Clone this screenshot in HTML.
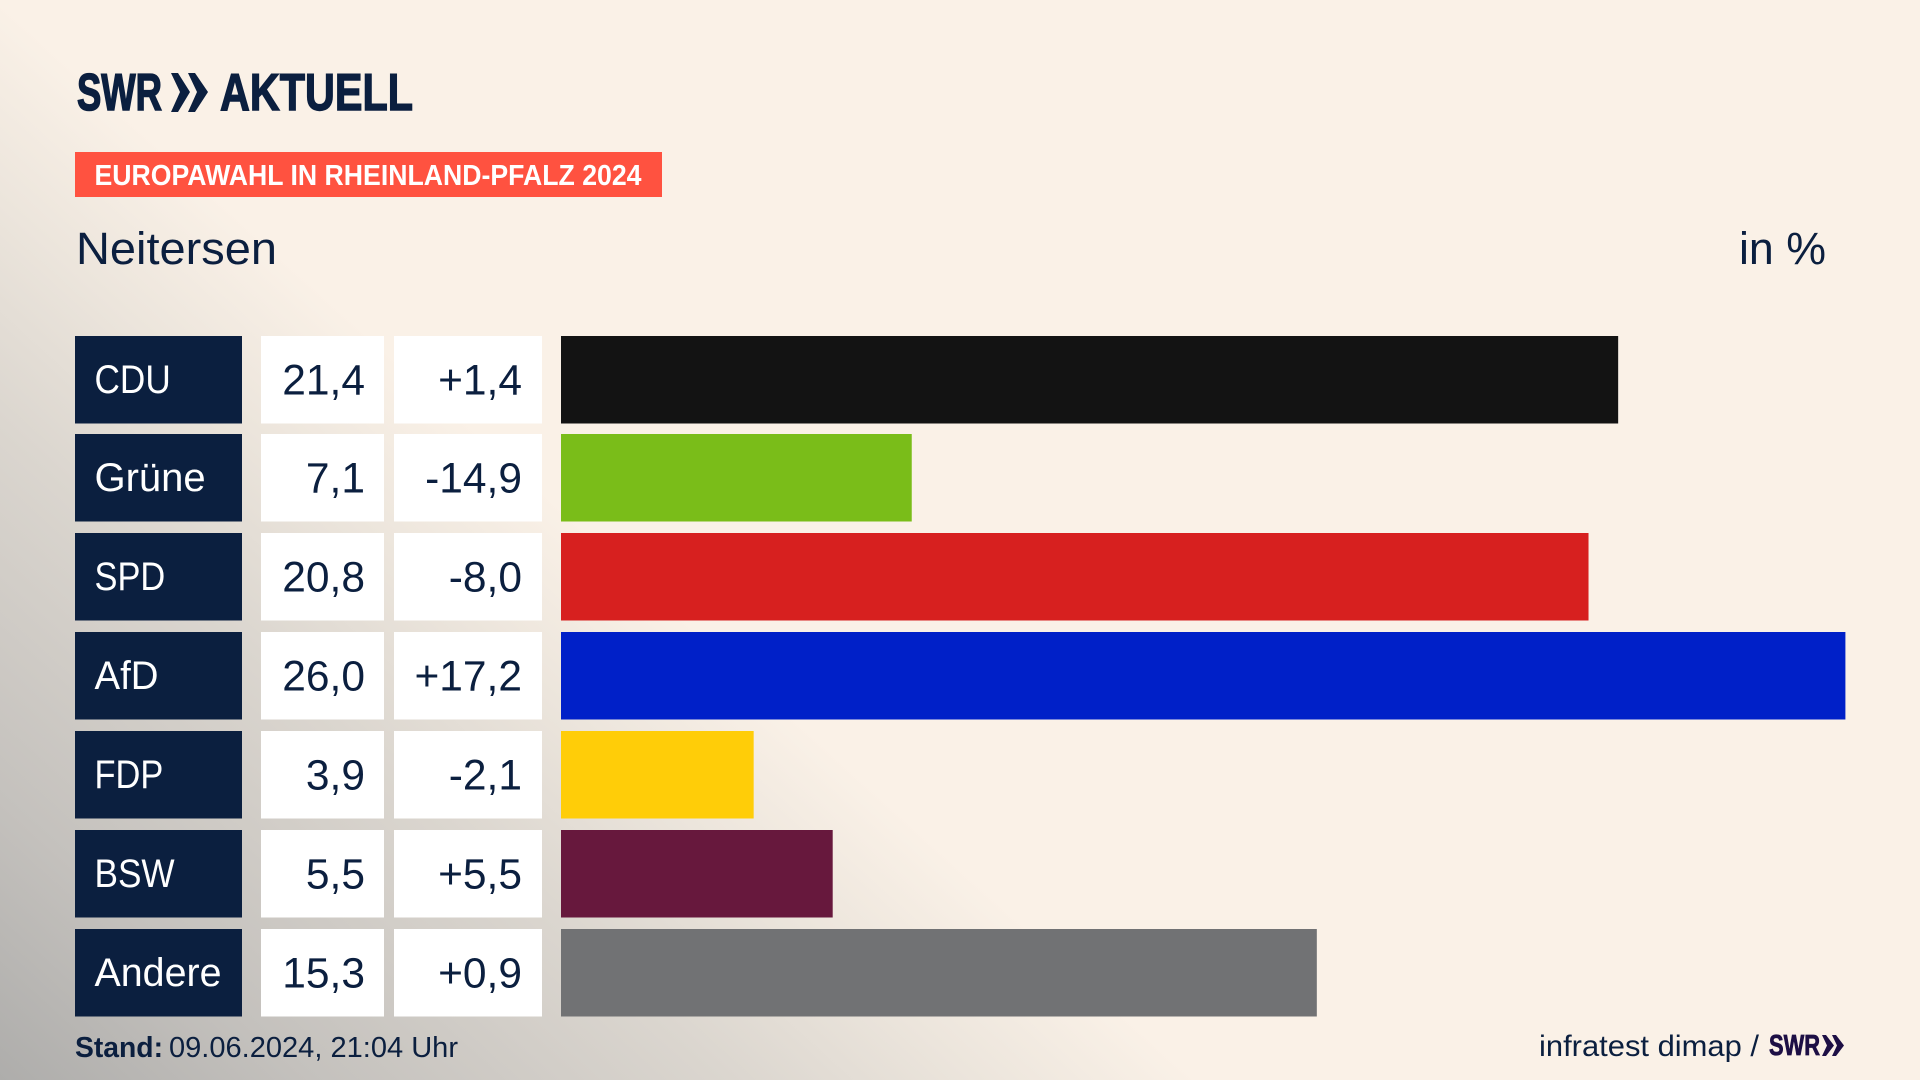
<!DOCTYPE html>
<html lang="de">
<head>
<meta charset="utf-8">
<title>Europawahl in Rheinland-Pfalz 2024 – Neitersen</title>
<style>
  html, body { margin: 0; padding: 0; width: 1920px; height: 1080px; overflow: hidden; }
  body {
    background: linear-gradient(42deg, #aeadab 0%, #c4c1bd 10%, #dbd6cf 23.5%, #ece5dc 31.3%, #faf1e7 38.4%, #faf1e7 100%);
    font-family: "Liberation Sans", sans-serif;
  }
  svg { position: absolute; left: 0; top: 0; display: block; }
  text { font-family: "Liberation Sans", sans-serif; fill: #0b1f3f; }
</style>
</head>
<body>
<svg id="chart" width="1920" height="1080" viewBox="0 0 1920 1080" xmlns="http://www.w3.org/2000/svg">
  <g>
    <text x="77" y="110" font-size="52" font-weight="700" textLength="85" lengthAdjust="spacingAndGlyphs" style="stroke:#0b1f3f;stroke-width:1.6">SWR</text>
    <polygon points="171,73 178,73 190,92 178,112 171,112 180,92" fill="#0b1f3f"/>
    <polygon points="188,73 195,73 208,92 195,112 188,112 197,92" fill="#0b1f3f"/>
    <text x="220" y="110" font-size="52" font-weight="700" textLength="193" lengthAdjust="spacingAndGlyphs" style="stroke:#0b1f3f;stroke-width:1.4">AKTUELL</text>
  </g>
  <rect x="75" y="152" width="587" height="45" fill="#ff5240"/>
  <text x="94.5" y="185" font-size="28.5" font-weight="700" textLength="547" lengthAdjust="spacingAndGlyphs" style="fill:#ffffff">EUROPAWAHL IN RHEINLAND-PFALZ 2024</text>
  <text x="76" y="264" font-size="45" textLength="201" lengthAdjust="spacingAndGlyphs">Neitersen</text>
  <text x="1739" y="264" font-size="45" textLength="87" lengthAdjust="spacingAndGlyphs">in %</text>
  <g id="rows"></g>
  <text x="75" y="1057" font-size="29" font-weight="700" textLength="88" lengthAdjust="spacingAndGlyphs">Stand:</text>
  <text x="169" y="1057" font-size="29" textLength="289" lengthAdjust="spacingAndGlyphs">09.06.2024, 21:04 Uhr</text>
  <text x="1539" y="1056" font-size="30" textLength="220" lengthAdjust="spacingAndGlyphs">infratest dimap /</text>
  <g>
    <text x="1769" y="1055" font-size="29" font-weight="700" textLength="51" lengthAdjust="spacingAndGlyphs" style="fill:#1d0f45;stroke:#1d0f45;stroke-width:0.8">SWR</text>
    <polygon points="1822,1035 1826,1035 1834,1045.5 1826,1056 1822,1056 1827,1045.5" fill="#1d0f45"/>
    <polygon points="1832,1035 1836,1035 1844,1045.5 1836,1056 1832,1056 1837,1045.5" fill="#1d0f45"/>
  </g>
</svg>
<script>
  var parties = ["CDU", "Grüne", "SPD", "AfD", "FDP", "BSW", "Andere"];
  var voteShare = [21.4, 7.1, 20.8, 26.0, 3.9, 5.5, 15.3];
  var voteChange = [1.4, -14.9, -8.0, 17.2, -2.1, 5.5, 0.9];

  var partyColors = { "CDU": "#131313", "Grüne": "#7abd19", "SPD": "#d7201f", "AfD": "#0020c8", "FDP": "#ffcd08", "BSW": "#67183d", "Andere": "#717274" };
  var labelFit = { "CDU": 0.88, "Grüne": 1.0, "SPD": 0.86, "AfD": 0.96, "FDP": 0.86, "BSW": 0.88, "Andere": 0.985 };

  var NS = "http://www.w3.org/2000/svg";
  var BAR_X = 561;
  var PX_PER_POINT = 49.4;
  function xScale(v) { return BAR_X + v * PX_PER_POINT; }
  function rowTop(i) { return Math.floor(336 + i * 98.84); }
  var ROW_H = 87.5;

  function fmt(v) { return v.toFixed(1).replace(".", ","); }
  function fmtChange(v) { return (v > 0 ? "+" : "") + fmt(v); }

  function makeRect(parent, x, y, w, h, fill) {
    var r = document.createElementNS(NS, "rect");
    r.setAttribute("x", x);
    r.setAttribute("y", y);
    r.setAttribute("width", w);
    r.setAttribute("height", h);
    r.setAttribute("fill", fill);
    parent.appendChild(r);
    return r;
  }
  function makeText(parent, x, y, size, anchor, content, fill) {
    var t = document.createElementNS(NS, "text");
    t.setAttribute("x", x);
    t.setAttribute("y", y);
    t.setAttribute("font-size", size);
    t.setAttribute("text-anchor", anchor);
    t.style.fill = fill;
    t.textContent = content;
    parent.appendChild(t);
    return t;
  }

  var rowsEl = document.getElementById("rows");
  parties.forEach(function (party, i) {
    var top = rowTop(i);
    var key = party.toLowerCase().replace("ü", "ue");

    var g = document.createElementNS(NS, "g");
    
    
    rowsEl.appendChild(g);

    var labelBox = makeRect(g, 75, top, 167, ROW_H, "#0b1f3f");
    
    

    var label = makeText(g, 0, 0, 40, "start", party, "#ffffff");
    label.setAttribute("transform", "translate(94.5 " + (top + 57) + ") scale(" + labelFit[party] + " 1)");
    
    

    var valueBox = makeRect(g, 261, top, 123, ROW_H, "#ffffff");
    
    

    var valueText = makeText(g, 365, top + 58.5, 42.5, "end", fmt(voteShare[i]), "#0b1f3f");
    
    

    var changeBox = makeRect(g, 394, top, 148, ROW_H, "#ffffff");
    
    

    var changeText = makeText(g, 522, top + 58.5, 42.5, "end", fmtChange(voteChange[i]), "#0b1f3f");
    
    

    var bar = makeRect(g, BAR_X, top, xScale(voteShare[i]) - BAR_X, ROW_H, partyColors[party]);
    
    
  });
</script>
</body>
</html>
